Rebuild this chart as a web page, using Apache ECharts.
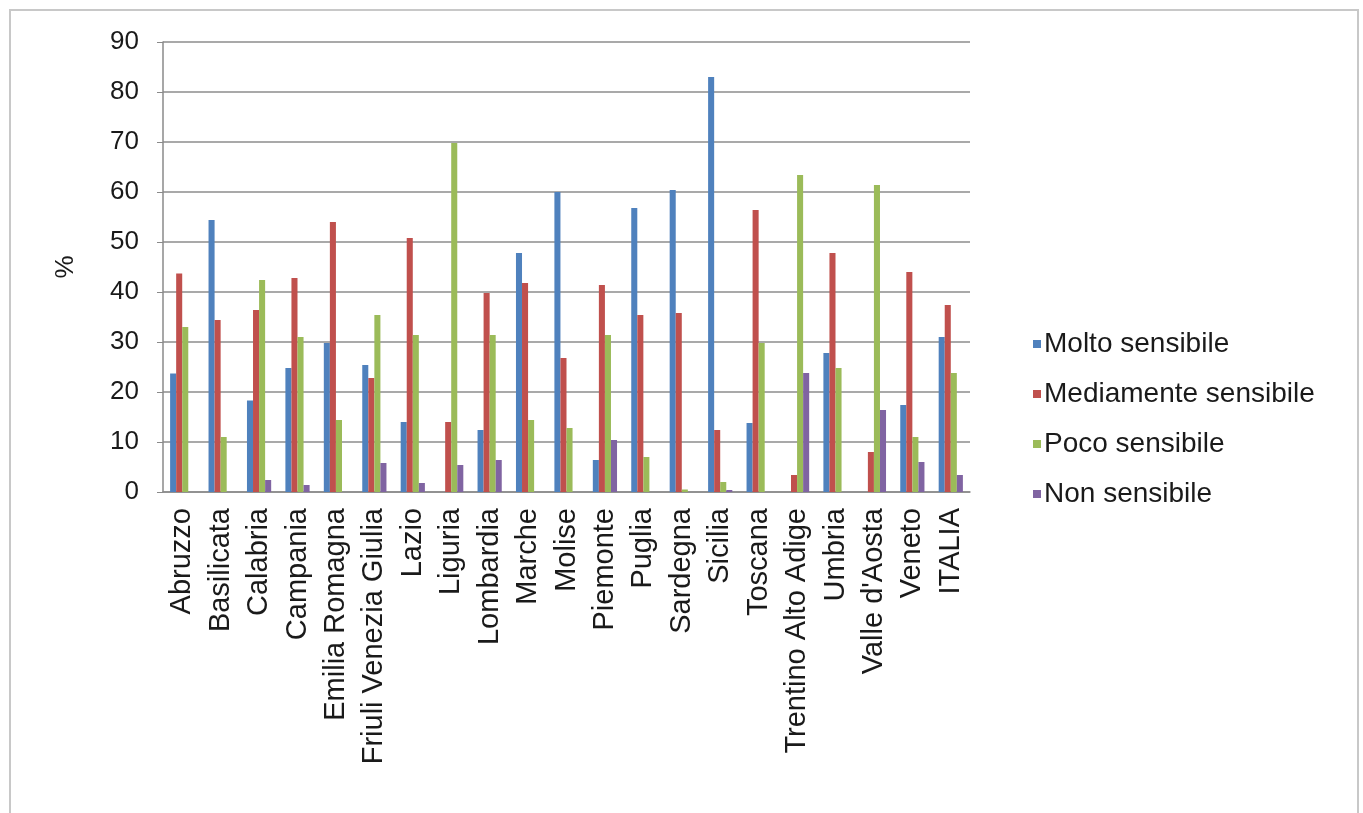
<!DOCTYPE html>
<html>
<head>
<meta charset="utf-8">
<script src="https://cdn.jsdelivr.net/npm/echarts@6/dist/echarts.min.js"></script>
<style>
html,body{margin:0;padding:0;background:#fff;}
#chart{width:1363px;height:813px;}
</style>
</head>
<body>
<div id="chart"></div>
<script>
const categories = ["Abruzzo","Basilicata","Calabria","Campania","Emilia Romagna","Friuli Venezia Giulia","Lazio","Liguria","Lombardia","Marche","Molise","Piemonte","Puglia","Sardegna","Sicilia","Toscana","Trentino Alto Adige","Umbria","Valle d'Aosta","Veneto","ITALIA"];
const seriesNames = ["Molto sensibile","Mediamente sensibile","Poco sensibile","Non sensibile"];
const molto      = [23.7, 54.4, 18.3, 24.8, 29.8, 25.4, 14.0, 0,    12.4, 47.8, 60.0, 6.4,  56.8, 60.4, 83.0, 13.8, 0,    27.8, 0,    17.4, 31.0];
const mediamente = [43.7, 34.4, 36.4, 42.8, 54.0, 22.8, 50.8, 14.0, 39.8, 41.8, 26.8, 41.4, 35.4, 35.8, 12.4, 56.4, 3.4,  47.8, 8.0,  44.0, 37.4];
const poco       = [33.0, 11.0, 42.4, 31.0, 14.4, 35.4, 31.4, 69.8, 31.4, 14.4, 12.8, 31.4, 7.0,  0.5,  2.0,  29.8, 63.4, 24.8, 61.4, 11.0, 23.8];
const non        = [0,    0,    2.4,  1.4,  0,    5.8,  1.8,  5.4,  6.4,  0,    0,    10.4, 0,    0,    0.4,  0,    23.8, 0,    16.4, 6.0,  3.4];
const yTicks = [0,10,20,30,40,50,60,70,80,90];

const colors = ["#4F81BD","#C0504D","#9BBB59","#8064A2"];
const values = [molto, mediamente, poco, non];
const font = "'Liberation Sans', Arial, sans-serif";

const chart = echarts.init(document.getElementById('chart'), null, {renderer:'canvas'});
chart.setOption({
  animation:false,
  backgroundColor:'#fff',
  graphic:[{type:'rect', shape:{x:10,y:10,width:1348,height:810}, style:{fill:'none', stroke:'#c8c8c8', lineWidth:2}, silent:true}],
  grid:{left:163, right:393, top:42, bottom:321, containLabel:false},
  legend:{
    orient:'vertical', left:1028, top:325, itemWidth:8, itemHeight:8, itemGap:22,
    icon:'rect',
    data:seriesNames,
    textStyle:{fontFamily:font, fontSize:28, lineHeight:28, color:'#1a1a1a', padding:[0,0,0,-2]}
  },
  xAxis:{
    type:'category', data:categories,
    axisLine:{show:true, lineStyle:{color:'#8a8a8a', width:1.5}},
    axisTick:{show:false},
    axisLabel:{interval:0, rotate:90, fontFamily:font, fontSize:29, color:'#1a1a1a', margin:16}
  },
  yAxis:{
    type:'value', min:0, max:90, interval:10,
    name:'%', nameLocation:'middle', nameRotate:90, nameGap:84,
    nameTextStyle:{fontFamily:font, fontSize:26, color:'#1a1a1a'},
    axisLine:{show:true, lineStyle:{color:'#8a8a8a', width:1.5}},
    axisTick:{show:true, length:6, lineStyle:{color:'#8a8a8a'}},
    axisLabel:{fontFamily:font, fontSize:26, color:'#1a1a1a', margin:24,
      formatter:function(v){return yTicks.indexOf(v)>=0 ? String(v) : '';}},
    splitLine:{show:true, lineStyle:{color:'#8c8c8c', width:1.5}}
  },
  series: seriesNames.map(function(n,i){
    return {name:n, type:'bar', data:values[i], barGap:'0%', barCategoryGap:'37%',
      itemStyle:{color:colors[i]}};
  })
});
</script>
</body>
</html>
